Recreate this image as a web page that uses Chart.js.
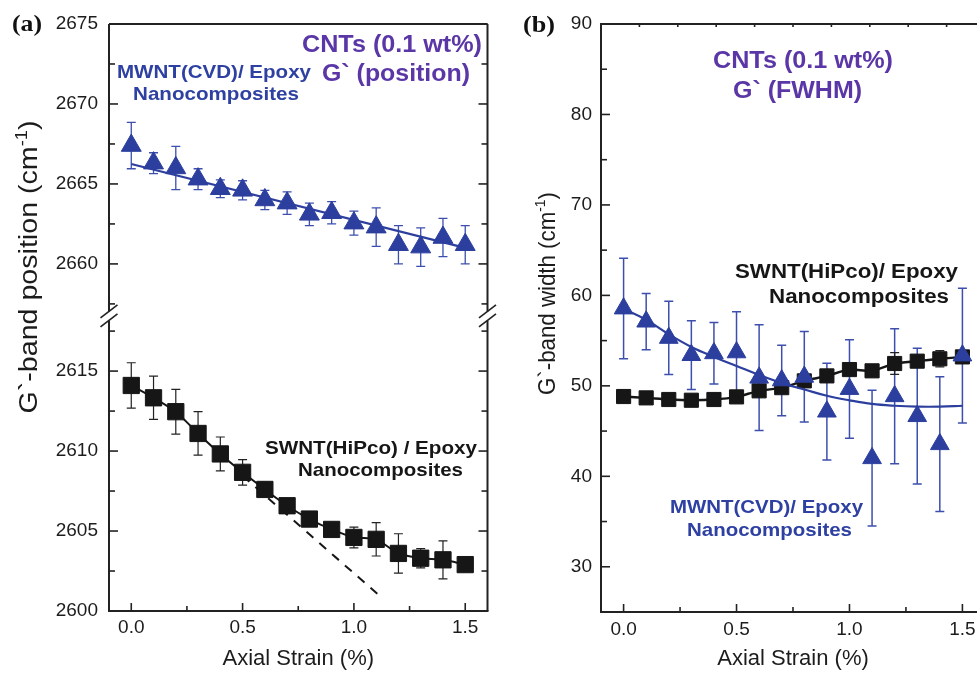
<!DOCTYPE html>
<html><head><meta charset="utf-8">
<script src="https://cdn.jsdelivr.net/npm/chart.js@4.4.1/dist/chart.umd.min.js"></script>
<style>
html,body{margin:0;padding:0;background:#fff;overflow:hidden;width:977px;height:674px;}
#wa{position:absolute;left:0;top:0;width:500px;height:674px;}
#wb{position:absolute;left:500px;top:0;width:500px;height:674px;}
canvas{display:block;}
</style></head><body>
<div id="wa"><canvas id="ca" width="500" height="674"></canvas></div>
<div id="wb"><canvas id="cb" width="500" height="674"></canvas></div>
<script>
// ---------- data ----------
const strain = [0,0.1,0.2,0.3,0.4,0.5,0.6,0.7,0.8,0.9,1.0,1.1,1.2,1.3,1.4,1.5];
// panel (a): G' band position
const mwntPos    = [2667.4,2666.3,2666.0,2665.3,2664.7,2664.6,2664.0,2663.8,2663.1,2663.2,2662.55,2662.3,2661.2,2661.05,2661.65,2661.2];
const mwntPosErr = [1.45,0.65,1.35,0.65,0.55,0.6,0.6,0.7,0.7,0.7,0.75,1.2,1.2,1.2,1.2,1.2];
const mwntFitX   = [0,1.5];
const mwntFitY   = [2666.25,2661.0];
const swntPos    = [2614.1,2613.33,2612.46,2611.1,2609.82,2608.67,2607.6,2606.58,2605.75,2605.1,2604.6,2604.48,2603.6,2603.3,2603.2,2602.9];
const swntPosErr = [1.42,1.35,1.4,1.36,1.06,0.8,0.45,0.45,0.35,0.3,0.65,1.04,1.23,0.6,1.19,0.3];
const swntSlopeX = [0.5,1.12];
const swntSlopeY = [2608.45,2600.9];
// panel (b): G' band width (FWHM)
const swntWidth    = [48.82,48.67,48.49,48.41,48.49,48.78,49.45,49.8,50.55,51.1,51.8,51.66,52.47,52.73,52.99,53.2];
const swntWidthErr = [0.3,0.3,0.3,0.3,0.3,0.3,0.4,0.4,0.4,0.4,0.6,0.4,1.2,0.5,0.9,0.6];
const mwntWidth    = [58.55,57.1,55.3,53.4,53.6,53.7,50.9,50.6,51.0,47.15,49.65,42.0,48.85,46.65,43.55,53.35];
const mwntWidthErr = [5.55,3.1,4.05,3.8,3.4,4.5,5.85,3.9,5.0,5.35,5.45,7.5,7.45,7.5,7.45,7.45];
const mwntWidthFit = [58.5,57.3,55.7,54.3,53.2,52.2,51.2,50.3,49.6,48.9,48.4,48.0,47.8,47.7,47.7,47.8];
// ticks
const xTicks       = [0,0.5,1.0,1.5];
const xMinorTicks  = [0.25,0.75,1.25];
const yTicksUpperA = [2660,2665,2670,2675];
const yMinorUpperA = [2657.5,2662.5,2667.5,2672.5];
const yTicksLowerA = [2600,2605,2610,2615];
const yMinorLowerA = [2602.5,2607.5,2612.5,2617.5];
const yTicksB      = [30,40,50,60,70,80,90];
const yMinorB      = [35,45,55,65,75,85];
const topTicksB    = [0.07,0.24,0.41,0.58,0.75,0.92,1.09,1.26,1.43];
const rightTicksB  = [38,51,64,77];

// ---------- style ----------
const BLUE = '#2c3f9e', BLUE_ERR = '#3d4fae', PURPLE = '#5b36a6', TXT_BLUE = '#2e41a2', BLACK = '#161616', AX = '#222';
const SANS = '"Liberation Sans", Arial, Helvetica, sans-serif';
Chart.defaults.font.family = SANS;
Chart.defaults.color = '#1c1c1c';

const pts = (xs, ys) => xs.map((x, i) => ({x, y: ys[i]}));

function textFit(ctx, text, cx, base, width, size, color, weight, family) {
  ctx.save();
  ctx.font = (weight || 'bold') + ' ' + size + 'px ' + (family || SANS);
  const m = ctx.measureText(text).width;
  ctx.translate(cx, base);
  ctx.scale(width / m, 1);
  ctx.fillStyle = color;
  ctx.textAlign = 'center';
  ctx.textBaseline = 'alphabetic';
  ctx.fillText(text, 0, 0);
  ctx.restore();
}

function yTitle(ctx, main, sup, tail, baseX, cy, len, size) {
  ctx.save();
  ctx.translate(baseX, cy);
  ctx.rotate(-Math.PI / 2);
  const f1 = size + 'px ' + SANS, f2 = Math.round(size * 0.62) + 'px ' + SANS;
  ctx.font = f1; const w1 = ctx.measureText(main).width, w3 = ctx.measureText(tail).width;
  ctx.font = f2; const w2 = ctx.measureText(sup).width;
  const tot = w1 + w2 + w3;
  ctx.scale(len / tot, 1);
  ctx.fillStyle = '#1c1c1c';
  ctx.textBaseline = 'alphabetic';
  ctx.textAlign = 'left';
  let x = -tot / 2;
  ctx.font = f1; ctx.fillText(main, x, 0); x += w1;
  ctx.font = f2; ctx.fillText(sup, x, -size * 0.42); x += w2;
  ctx.font = f1; ctx.fillText(tail, x, 0);
  ctx.restore();
}

function errorBars(chart, cap) {
  const ctx = chart.ctx;
  chart.data.datasets.forEach((ds, i) => {
    if (!ds.errors) return;
    const meta = chart.getDatasetMeta(i);
    const xs = chart.scales[meta.xAxisID], ys = chart.scales[meta.yAxisID];
    ctx.save();
    ctx.strokeStyle = ds.errColor; ctx.lineWidth = ds.errWidth;
    ds.data.forEach((p, j) => {
      const e = ds.errors[j];
      const px = xs.getPixelForValue(p.x);
      const y1 = ys.getPixelForValue(p.y + e), y2 = ys.getPixelForValue(p.y - e);
      ctx.beginPath();
      ctx.moveTo(px, y1); ctx.lineTo(px, y2);
      ctx.moveTo(px - cap, y1); ctx.lineTo(px + cap, y1);
      ctx.moveTo(px - cap, y2); ctx.lineTo(px + cap, y2);
      ctx.stroke();
    });
    ctx.restore();
  });
}

function line(ctx, x1, y1, x2, y2) { ctx.beginPath(); ctx.moveTo(x1, y1); ctx.lineTo(x2, y2); ctx.stroke(); }

function commonScaleX(h, pad) {
  return {
    type: 'linear', min: -0.1, max: 1.6,
    grid: {display: false, drawTicks: false}, border: {display: false},
    ticks: {font: {size: 19}, padding: pad, color: '#1c1c1c', callback: v => Number(v).toFixed(1)},
    title: {display: true, text: 'Axial Strain (%)', font: {size: 22}, color: '#1c1c1c', padding: {top: 0, bottom: 2}},
    afterBuildTicks: s => { s.ticks = xTicks.map(v => ({value: v})); },
    afterFit: s => { s.height = h; }
  };
}
function yScale(extra, ticks, w, pad) {
  return Object.assign({
    type: 'linear', position: 'left',
    grid: {display: false, drawTicks: false}, border: {display: false},
    ticks: {font: {size: 19}, padding: pad, color: '#1c1c1c', callback: v => String(v)},
    afterBuildTicks: s => { s.ticks = ticks.map(v => ({value: v})); },
    afterFit: s => { s.width = w; }
  }, extra);
}

// ---------- panel (a) ----------
const plugA = {
  id: 'frameA',
  beforeDatasetsDraw(chart) { errorBars(chart, 4.5); },
  afterDraw(chart) {
    const ctx = chart.ctx, a = chart.chartArea, xs = chart.scales.x, yU = chart.scales.yU, yL = chart.scales.yL;
    const brk = yU.bottom;
    ctx.save();
    ctx.strokeStyle = AX; ctx.lineWidth = 2;
    line(ctx, a.left, a.top, a.right, a.top);
    line(ctx, a.left - 1, a.bottom, a.right + 1, a.bottom);
    [a.left, a.right].forEach(X => {
      line(ctx, X, a.top, X, brk - 4.5);
      line(ctx, X, brk + 4.5, X, a.bottom);
      ctx.lineWidth = 1.6;
      line(ctx, X - 8.5, brk - 4.5 + 6.5, X + 8.5, brk - 4.5 - 6.5);
      line(ctx, X - 8.5, brk + 4.5 + 6.5, X + 8.5, brk + 4.5 - 6.5);
      ctx.lineWidth = 2;
    });
    ctx.lineWidth = 1.6;
    const yt = (sc, vals, len) => vals.forEach(v => { const p = sc.getPixelForValue(v);
      line(ctx, a.left, p, a.left + len, p); line(ctx, a.right, p, a.right - len, p); });
    yt(yU, yTicksUpperA, 9); yt(yU, yMinorUpperA, 6); yt(yL, yTicksLowerA, 9); yt(yL, yMinorLowerA, 6);
    xTicks.forEach(v => { const p = xs.getPixelForValue(v); line(ctx, p, a.bottom, p, a.bottom - 8); });
    xMinorTicks.forEach(v => { const p = xs.getPixelForValue(v); line(ctx, p, a.bottom, p, a.bottom - 5); });
    ctx.restore();
    yTitle(ctx, 'G`-band position (cm', '-1', ')', 37, 267, 293, 25);
    textFit(ctx, '(a)', 27, 31, 30, 23, '#111', 'bold', '"Liberation Serif", "Times New Roman", serif');
    textFit(ctx, 'CNTs (0.1 wt%)', 392, 52, 180, 23, PURPLE);
    textFit(ctx, 'G` (position)', 396, 81, 148, 23, PURPLE);
    textFit(ctx, 'MWNT(CVD)/ Epoxy', 214, 78, 194, 19, TXT_BLUE);
    textFit(ctx, 'Nanocomposites', 216, 100, 166, 19, TXT_BLUE);
    textFit(ctx, 'SWNT(HiPco) / Epoxy', 371, 454, 212, 19, BLACK);
    textFit(ctx, 'Nanocomposites', 380.5, 476, 165, 19, BLACK);
  }
};

new Chart(document.getElementById('ca'), {
  type: 'line',
  data: {datasets: [
    {label: 'MWNT(CVD)/Epoxy', data: pts(strain, mwntPos), yAxisID: 'yU', showLine: false,
     pointStyle: 'triangle', pointRadius: 11.5, pointBackgroundColor: BLUE, pointBorderColor: BLUE, pointBorderWidth: 1,
     errors: mwntPosErr, errColor: BLUE_ERR, errWidth: 1.3},
    {label: 'MWNT fit', data: pts(mwntFitX, mwntFitY), yAxisID: 'yU', borderColor: BLUE, borderWidth: 2.2, pointRadius: 0},
    {label: 'SWNT(HiPco)/Epoxy', data: pts(strain, swntPos), yAxisID: 'yL', borderColor: BLACK, borderWidth: 2, tension: 0.25,
     pointStyle: 'rect', pointRadius: 11.5, pointBackgroundColor: BLACK, pointBorderColor: BLACK, pointBorderWidth: 1,
     errors: swntPosErr, errColor: '#222', errWidth: 1.2},
    {label: 'initial slope', data: pts(swntSlopeX, swntSlopeY), yAxisID: 'yL', borderColor: BLACK, borderWidth: 2, borderDash: [9, 8], pointRadius: 0}
  ]},
  options: {
    responsive: false, animation: false, devicePixelRatio: 1,
    layout: {padding: {top: 24, right: 7, left: 0, bottom: 0}},
    plugins: {legend: {display: false}, tooltip: {enabled: false}},
    scales: {
      x: commonScaleX(63, 5),
      yL: yScale({stack: 'a', stackWeight: 18.45, min: 2600, max: 2618.45}, yTicksLowerA, 109, 11),
      yU: yScale({stack: 'a', stackWeight: 18.25, min: 2656.75, max: 2675}, yTicksUpperA, 109, 11)
    }
  },
  plugins: [plugA]
});

// ---------- panel (b) ----------
const plugB = {
  id: 'frameB',
  beforeDatasetsDraw(chart) { errorBars(chart, 4.5); },
  afterDraw(chart) {
    const ctx = chart.ctx, a = chart.chartArea, xs = chart.scales.x, ys = chart.scales.y;
    ctx.save();
    ctx.strokeStyle = AX; ctx.lineWidth = 2;
    ctx.strokeRect(a.left, a.top, a.right - a.left, a.bottom - a.top);
    ctx.lineWidth = 1.6;
    yTicksB.forEach(v => { const p = ys.getPixelForValue(v); line(ctx, a.left, p, a.left + 9, p); });
    yMinorB.forEach(v => { const p = ys.getPixelForValue(v); line(ctx, a.left, p, a.left + 6, p); });
    rightTicksB.forEach(v => { const p = ys.getPixelForValue(v); line(ctx, a.right, p, a.right - 8, p); });
    xTicks.forEach(v => { const p = xs.getPixelForValue(v); line(ctx, p, a.bottom, p, a.bottom - 8); });
    xMinorTicks.forEach(v => { const p = xs.getPixelForValue(v); line(ctx, p, a.bottom, p, a.bottom - 5); });
    topTicksB.forEach(v => { const p = xs.getPixelForValue(v); line(ctx, p, a.top, p, a.top + 3); });
    ctx.restore();
    yTitle(ctx, 'G`-band width (cm', '-1', ')', 55, 293.5, 203, 24);
    textFit(ctx, '(b)', 39, 32, 32, 23, '#111', 'bold', '"Liberation Serif", "Times New Roman", serif');
    textFit(ctx, 'CNTs (0.1 wt%)', 303, 68, 180, 23, PURPLE);
    textFit(ctx, 'G` (FWHM)', 297.5, 98, 129, 23, PURPLE);
    textFit(ctx, 'SWNT(HiPco)/ Epoxy', 346.5, 278, 223, 20, BLACK);
    textFit(ctx, 'Nanocomposites', 359, 303, 180, 20, BLACK);
    textFit(ctx, 'MWNT(CVD)/ Epoxy', 266.5, 513, 193, 19, TXT_BLUE);
    textFit(ctx, 'Nanocomposites', 269.5, 536, 165, 19, TXT_BLUE);
  }
};

new Chart(document.getElementById('cb'), {
  type: 'line',
  data: {datasets: [
    {label: 'MWNT(CVD)/Epoxy', data: pts(strain, mwntWidth), yAxisID: 'y', showLine: false,
     pointStyle: 'triangle', pointRadius: 10.8, pointBackgroundColor: BLUE, pointBorderColor: BLUE, pointBorderWidth: 1,
     errors: mwntWidthErr, errColor: BLUE_ERR, errWidth: 1.5},
    {label: 'MWNT fit', data: pts(strain, mwntWidthFit), yAxisID: 'y', borderColor: BLUE, borderWidth: 2.2, pointRadius: 0, tension: 0.4},
    {label: 'SWNT(HiPco)/Epoxy', data: pts(strain, swntWidth), yAxisID: 'y', borderColor: BLACK, borderWidth: 2.4, tension: 0.25,
     pointStyle: 'rect', pointRadius: 10, pointBackgroundColor: BLACK, pointBorderColor: BLACK, pointBorderWidth: 1,
     errors: swntWidthErr, errColor: '#222', errWidth: 1.2}
  ]},
  options: {
    responsive: false, animation: false, devicePixelRatio: 1,
    layout: {padding: {top: 24, right: 15, left: 0, bottom: 0}},
    plugins: {legend: {display: false}, tooltip: {enabled: false}},
    scales: {
      x: commonScaleX(62, 6),
      y: yScale({min: 25, max: 90}, yTicksB, 101, 9)
    }
  },
  plugins: [plugB]
});
</script>
</body></html>
